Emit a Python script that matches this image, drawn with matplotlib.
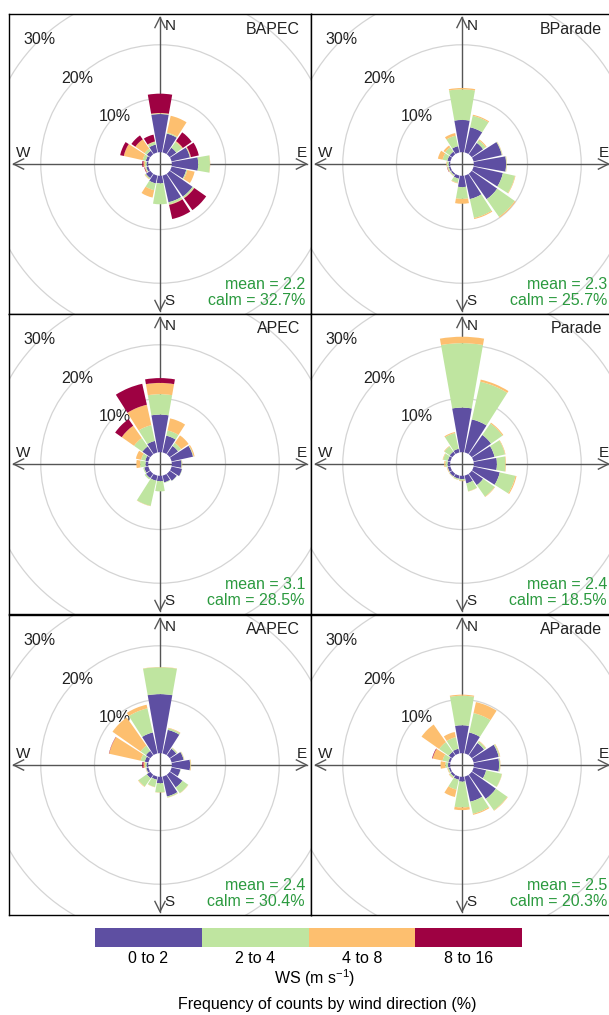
import numpy as np
import matplotlib.pyplot as plt
from matplotlib.patches import Wedge, Circle

plt.rcParams['font.family'] = ['Liberation Sans', 'DejaVu Sans']
plt.rcParams['mathtext.default'] = 'regular'

# wind direction sectors (deg, clockwise from north)
wd = np.arange(0, 360, 22.5)
ws_bins = ['0 to 2', '2 to 4', '4 to 8', '8 to 16']
ws_cols = ['#5E4FA2', '#BFE5A0', '#FDBF6F', '#9E0142']

sites = ['BAPEC', 'BParade', 'APEC', 'Parade', 'AAPEC', 'AParade']
means = [2.2, 2.3, 3.1, 2.4, 2.4, 2.5]
calms = [32.7, 25.7, 28.5, 18.5, 30.4, 20.3]

# frequency (%) by sector, one row per wind speed bin
bapec = np.array([
    [7.1, 3.6, 1.5, 3.5, 4.9, 2.8, 5.2, 5.1, 1.4, 1.5, 1.0, 0.4, 0.3, 0.5, 0.8, 1.5],
    [0.1, 0.2, 1.3, 0.1, 2.2, 0.2, 0.3, 0.4, 3.9, 1.3, 0.2, 0.2, 0.3, 0.6, 0.5, 0.5],
    [0.1, 3.2, 0.2, 0.1, 0.05, 1.4, 0.1, 0.1, 0.0, 1.4, 0.1, 0.1, 0.3, 3.6, 2.1, 0.1],
    [3.6, 0.0, 2.0, 1.5, 0.0, 0.0, 2.7, 2.7, 0.0, 0.0, 0.0, 0.1, 0.2, 0.7, 0.9, 1.3],
])
bparade = np.array([
    [6.0, 4.8, 2.6, 5.4, 6.0, 5.6, 5.8, 4.5, 2.1, 0.6, 0.3, 0.3, 0.3, 0.6, 0.6, 1.2],
    [5.7, 2.2, 0.6, 0.1, 0.1, 2.3, 4.0, 3.6, 2.2, 0.8, 0.2, 0.2, 0.3, 0.9, 1.0, 2.0],
    [0.25, 0.2, 0.2, 0.05, 0.05, 0.1, 0.2, 0.2, 0.9, 0.1, 0.05, 0.1, 0.1, 0.9, 0.4, 0.5],
    [0.0, 0.0, 0.0, 0.0, 0.0, 0.0, 0.0, 0.0, 0.0, 0.0, 0.0, 0.05, 0.0, 0.0, 0.0, 0.0],
])
apec = np.array([
    [7.0, 3.2, 1.9, 4.1, 1.8, 2.0, 1.6, 1.3, 1.0, 1.0, 1.0, 0.8, 0.5, 0.6, 1.8, 2.2],
    [3.8, 1.0, 0.7, 0.1, 0.1, 0.05, 0.05, 0.1, 1.9, 4.8, 0.3, 0.2, 1.0, 0.8, 1.9, 3.0],
    [2.1, 2.3, 1.7, 0.2, 0.05, 0.0, 0.0, 0.0, 0.0, 0.05, 0.0, 0.0, 0.7, 1.0, 2.8, 3.9],
    [0.9, 0.0, 0.0, 0.0, 0.0, 0.0, 0.0, 0.0, 0.0, 0.0, 0.0, 0.0, 0.0, 0.0, 1.5, 4.0],
])
parade = np.array([
    [8.3, 6.3, 4.4, 4.0, 4.3, 5.0, 2.6, 1.5, 0.6, 0.6, 0.6, 0.5, 0.5, 0.5, 0.6, 0.7],
    [12.0, 7.2, 2.6, 2.0, 1.6, 3.0, 2.6, 1.5, 0.3, 0.2, 0.1, 0.1, 0.4, 0.9, 1.2, 3.0],
    [1.2, 0.4, 0.2, 0.1, 0.1, 0.2, 0.1, 0.05, 0.1, 0.05, 0.05, 0.1, 0.2, 0.1, 0.1, 0.2],
    [0.0, 0.0, 0.0, 0.0, 0.0, 0.0, 0.0, 0.0, 0.0, 0.0, 0.0, 0.0, 0.0, 0.0, 0.0, 0.0],
])
aapec = np.array([
    [11.0, 4.5, 1.5, 2.3, 3.4, 1.7, 2.9, 3.8, 1.2, 0.6, 0.8, 0.4, 0.3, 0.7, 1.0, 4.0],
    [5.0, 0.3, 0.2, 0.1, 0.1, 0.05, 1.3, 0.2, 1.7, 1.4, 1.9, 0.1, 0.3, 0.8, 1.2, 4.6],
    [0.05, 0.1, 0.05, 0.05, 0.1, 0.0, 0.05, 0.05, 0.05, 0.05, 0.1, 0.05, 0.3, 6.0, 6.4, 0.7],
    [0.0, 0.0, 0.0, 0.0, 0.0, 0.0, 0.0, 0.0, 0.0, 0.0, 0.0, 0.0, 0.2, 0.05, 0.0, 0.0],
])
aparade = np.array([
    [5.2, 4.0, 2.8, 4.8, 4.7, 2.4, 5.5, 4.8, 0.9, 0.6, 0.4, 0.3, 0.4, 0.4, 0.8, 0.9],
    [5.5, 3.7, 0.4, 0.2, 0.2, 3.0, 2.6, 2.3, 4.8, 1.9, 0.3, 0.2, 0.5, 1.1, 2.2, 2.2],
    [0.2, 2.1, 0.1, 0.1, 0.05, 0.05, 0.1, 0.2, 0.5, 1.4, 0.1, 0.1, 0.9, 1.9, 4.0, 1.0],
    [0.0, 0.0, 0.0, 0.0, 0.0, 0.0, 0.0, 0.0, 0.0, 0.0, 0.0, 0.0, 0.0, 0.1, 0.0, 0.0],
])
freqs = [bapec, bparade, apec, parade, aapec, aparade]

W, H = 609, 1015
fig = plt.figure(figsize=(W / 100, H / 100), dpi=100)

px = 5.37     # pixels per 1 % on the radial axis
hole = 2.2    # calm offset in the middle
L = 27.3      # length of the compass axes
lefts = [9, 311]
tops = [14, 314, 615]
fs = 11.5

for i, site in enumerate(sites):
    row, col = divmod(i, 2)
    ax = fig.add_axes([lefts[col] / W, 1 - (tops[row] + 300) / H, 302 / W, 300 / H])
    ax.set_xlim(-151 / px, 151 / px)
    ax.set_ylim(-150 / px, 150 / px)
    ax.set_xticks([])
    ax.set_yticks([])
    for s in ax.spines.values():
        s.set_linewidth(1)
        s.set_color('black')

    # grid circles + labels
    for k in (10, 20, 30):
        ax.add_patch(Circle((0, 0), hole + k, fill=False, ec='#d4d4d4', lw=0.9, zorder=1))
        a = np.radians(316)
        ax.text((hole + k) * np.sin(a), (hole + k) * np.cos(a), f'{k}%',
                ha='center', va='center', fontsize=fs, color='#222222', zorder=1.2)

    # compass axes with open arrow heads
    ax.plot([-L, L], [0, 0], color='#555555', lw=1, zorder=1.5)
    ax.plot([0, 0], [-L, L], color='#555555', lw=1, zorder=1.5)
    for dx, dy in [(1, 0), (-1, 0), (0, 1), (0, -1)]:
        tx, ty = L * dx, L * dy
        ax.plot([tx - 1.9 * dx - 0.95 * dy, tx, tx - 1.9 * dx + 0.95 * dy],
                [ty - 1.9 * dy + 0.95 * dx, ty, ty - 1.9 * dy - 0.95 * dx],
                color='#555555', lw=1, zorder=1.5)
    ax.text(0.8, 25.7, 'N', ha='left', va='center', fontsize=11, color='#222222')
    ax.text(0.8, -25.5, 'S', ha='left', va='center', fontsize=11, color='#222222')
    ax.text(26.4, 2.0, 'E', ha='center', va='center', fontsize=11, color='#222222')
    ax.text(-25.4, 2.0, 'W', ha='center', va='center', fontsize=11, color='#222222')

    # stacked sectors
    f = freqs[i]
    cum = np.zeros(len(wd))
    for j in range(len(ws_bins)):
        for k, d in enumerate(wd):
            if f[j, k] <= 0:
                continue
            r0 = hole + cum[k]
            r1 = r0 + f[j, k]
            ax.add_patch(Wedge((0, 0), r1, 90 - d - 10, 90 - d + 10, width=r1 - r0,
                               fc=ws_cols[j], ec='none', zorder=3))
        cum += f[j]

    ax.text(0.964, 0.95, site, transform=ax.transAxes, ha='right', va='center',
            fontsize=fs, color='#222222')
    ax.text(0.98, 0.097, f'mean = {means[i]}', transform=ax.transAxes, ha='right',
            va='center', fontsize=fs, color='#2b9a3f')
    ax.text(0.98, 0.045, f'calm = {calms[i]}%', transform=ax.transAxes, ha='right',
            va='center', fontsize=fs, color='#2b9a3f')

# colour key
kax = fig.add_axes([95 / W, 1 - 947 / H, 427 / W, 19 / H])
kax.bar(np.arange(4), 1, width=1, align='edge', color=ws_cols)
kax.set_xlim(0, 4)
kax.set_ylim(0, 1)
kax.set_yticks([])
kax.set_xticks(np.arange(4) + 0.5, ws_bins, fontsize=fs)
kax.tick_params(axis='x', length=0, pad=3)
for s in kax.spines.values():
    s.set_visible(False)

fig.text(315 / W, 1 - 978 / H, 'WS (m s$^{-1}$)', ha='center', va='center', fontsize=fs)
fig.text(327 / W, 1 - 1005 / H, 'Frequency of counts by wind direction (%)',
         ha='center', va='center', fontsize=fs)

fig.savefig('out.png', dpi=100)
